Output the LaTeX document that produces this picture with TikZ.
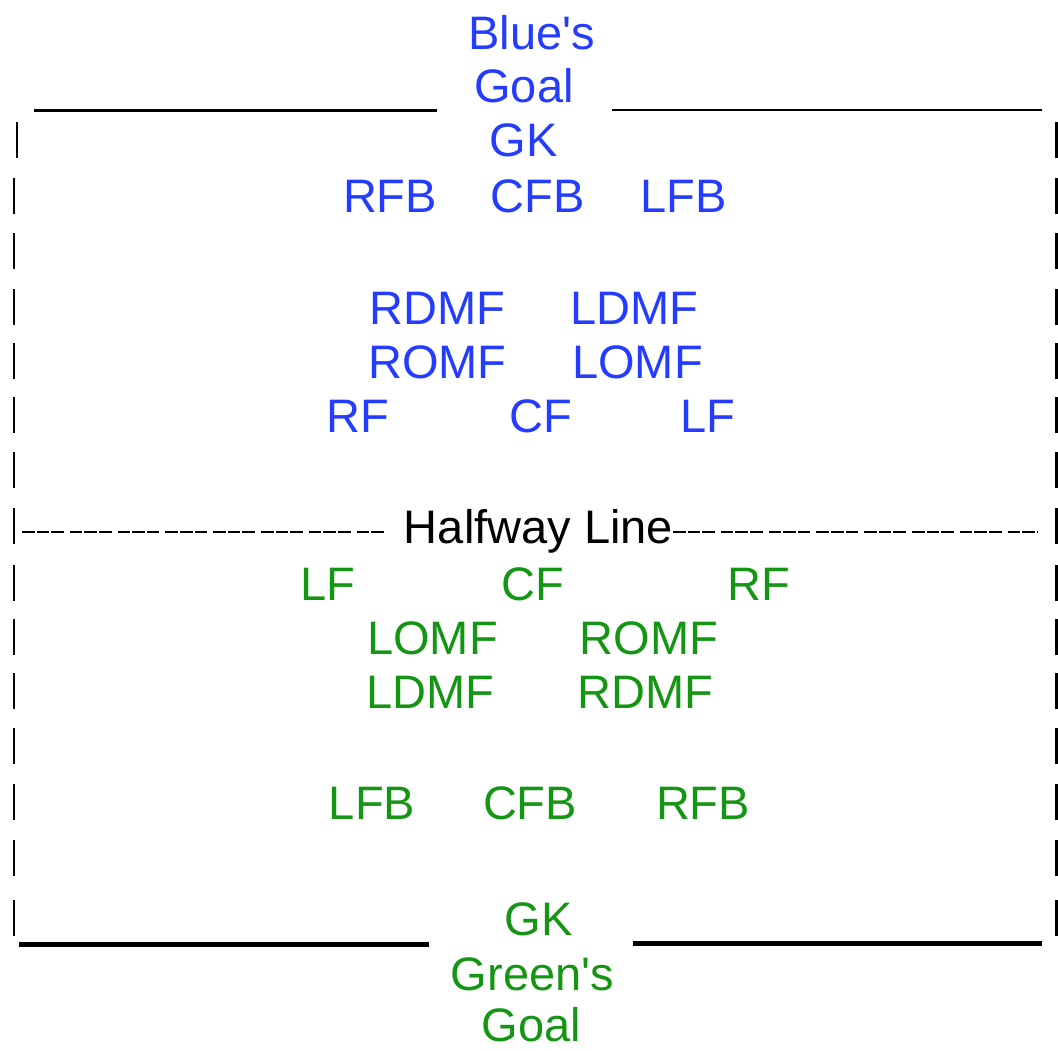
\documentclass[tikz,border=0pt]{standalone}
\usepackage{fontspec}
\newfontfamily\lsans{Liberation Sans}
\definecolor{blueteam}{RGB}{35,60,255}
\definecolor{greenteam}{RGB}{20,150,20}
\begin{document}
\begin{tikzpicture}[x=1pt,y=-1pt,
  lbl/.style={anchor=base,inner sep=0pt,font=\lsans\fontsize{47}{47}\selectfont},
  bl/.style={lbl,text=blueteam},
  gr/.style={lbl,text=greenteam},
  bar/.style={line width=2.6pt,black},
  goalline/.style={line width=2.6pt,black},
  goallinethick/.style={line width=4.2pt,black},
  half/.style={line width=2.4pt,black,dash pattern=on 12.6pt off 2pt on 12.6pt off 2pt on 12.6pt off 6pt}]
\useasboundingbox (0,0) rectangle (1058,1051);
% Blue team
\node[bl] (bgoal1) at (531.5,50) {Blue's};
\node[bl] (bgoal2) at (524,103) {Goal};
\node[bl] (bgk) at (523.5,157) {GK};
\node[bl] (brfb) at (390,213) {RFB};
\node[bl] (bcfb) at (537.5,213) {CFB};
\node[bl] (blfb) at (683.5,213) {LFB};
\node[bl] (brdmf) at (437.5,324) {RDMF};
\node[bl] (bldmf) at (634.5,324) {LDMF};
\node[bl] (bromf) at (437.5,378) {ROMF};
\node[bl] (blomf) at (637.5,378) {LOMF};
\node[bl] (brf) at (357.5,432) {RF};
\node[bl] (bcf) at (541,432) {CF};
\node[bl] (blf) at (707.5,432) {LF};
% Halfway
\node[lbl] (halfway) at (538.5,543) {Halfway Line};
% Green team
\node[gr] (glf) at (328,600) {LF};
\node[gr] (gcf) at (533,600) {CF};
\node[gr] (grf) at (759,600) {RF};
\node[gr] (glomf) at (432.5,654) {LOMF};
\node[gr] (gromf) at (649,654) {ROMF};
\node[gr] (gldmf) at (430.5,708) {LDMF};
\node[gr] (grdmf) at (645,708) {RDMF};
\node[gr] (glfb) at (372,819) {LFB};
\node[gr] (gcfb) at (530,819) {CFB};
\node[gr] (grfb) at (703,819) {RFB};
\node[gr] (ggk) at (538.5,935) {GK};
\node[gr] (ggoal1) at (532.5,990) {Green's};
\node[gr] (ggoal2) at (531.5,1041) {Goal};
% goal lines
\coordinate (tl1) at (34,110.5);
\coordinate (tl2) at (437,110.5);
\coordinate (tr1) at (612,110);
\coordinate (tr2) at (1042,110);
\draw[goalline] (tl1) -- (tl2);
\draw[goalline] (tr1) -- (tr2);
\coordinate (bl1) at (19,944.5);
\coordinate (bl2) at (429,944.5);
\coordinate (br1) at (633,943.5);
\coordinate (br2) at (1042,943.5);
\draw[goallinethick] (bl1) -- (bl2);
\draw[goallinethick] (br1) -- (br2);
% halfway dashes
\coordinate (hl1) at (22,532);
\coordinate (hl2) at (385,532);
\coordinate (hr1) at (673,532);
\coordinate (hr2) at (1038,532);
\draw[half] (hl1) -- (hl2);
\draw[half] (hr1) -- (hr2);
% side bars
\draw[bar] (17,122) -- (17,158);
\foreach \b in {213,268,324,378,432,487,543,600,654,708,763,819,875,935}{
  \draw[bar] (14,\b-35) -- (14,\b+1);
}
\foreach \b in {157,213,268,324,378,432,487,543,600,654,708,763,819,875,935}{
  \draw[bar] (1056.5,\b-35) -- (1056.5,\b+1);
}
\end{tikzpicture}
\end{document}
